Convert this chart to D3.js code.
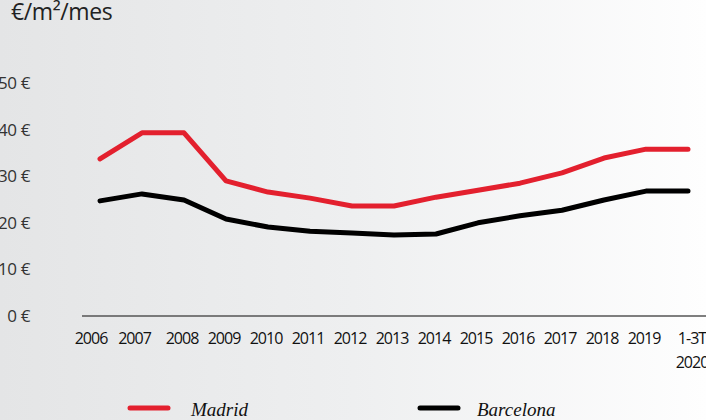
<!DOCTYPE html>
<html>
<head>
<meta charset="utf-8">
<script src="https://cdn.jsdelivr.net/npm/d3@7"></script>
<style>
  html, body { margin: 0; padding: 0; }
  body { width: 706px; height: 420px; overflow: hidden; }
</style>
</head>
<body>
<svg id="chart" width="706" height="420"></svg>
<script>
const years = ["2006","2007","2008","2009","2010","2011","2012","2013","2014","2015","2016","2017","2018","2019","1-3T 2020"];
const madrid = [33.7, 39.3, 39.3, 29.0, 26.6, 25.3, 23.6, 23.6, 25.5, 27.0, 28.5, 30.7, 33.9, 35.8, 35.8];
const barcelona = [24.7, 26.2, 24.9, 20.8, 19.1, 18.2, 17.8, 17.4, 17.6, 20.0, 21.5, 22.7, 24.9, 26.8, 26.8];
const yTicks = [0, 10, 20, 30, 40, 50];

const svg = d3.select("#chart");

// background gradient
const defs = svg.append("defs");
const grad = defs.append("linearGradient")
  .attr("id", "bg")
  .attr("x1", "0%").attr("x2", "100%")
  .attr("y1", "0%").attr("y2", "0%");
grad.append("stop").attr("offset", "0%").attr("stop-color", "#e4e5e6");
grad.append("stop").attr("offset", "50%").attr("stop-color", "#eeeff0");
grad.append("stop").attr("offset", "100%").attr("stop-color", "#fefefe");

svg.append("rect")
  .attr("width", 706).attr("height", 420)
  .attr("fill", "url(#bg)");

const x = d3.scalePoint()
  .domain(years)
  .range([100, 688]);

const y = d3.scaleLinear()
  .domain([0, 50])
  .range([316, 83]);

/* UNIT LABEL */
svg.append("text")
  .attr("x", 11)
  .attr("y", 20)
  .attr("font-family", "Open Sans, sans-serif")
  .attr("font-size", "23px")
  .attr("letter-spacing", "-0.4px")
  .attr("fill", "#222")
  .text("€/m²/mes");

/* Y LABELS */
svg.append("g")
  .selectAll("text")
  .data(yTicks)
  .join("text")
  .attr("x", 30)
  .attr("y", d => y(d))
  .attr("dy", "0.35em")
  .attr("text-anchor", "end")
  .attr("font-family", "Open Sans, sans-serif")
  .attr("font-size", "17px")
  .attr("letter-spacing", "-0.4px")
  .attr("fill", "#333")
  .text(d => d + " €");

/* X AXIS */
const xAxis = svg.append("g")
  .attr("transform", "translate(0,316)")
  .call(d3.axisBottom(x).tickSize(0).tickFormat(""));
xAxis.select(".domain")
  .attr("d", "M82,0H706")
  .attr("stroke", "#555")
  .attr("stroke-width", 1.5);

const xl = svg.append("g")
  .selectAll("text")
  .data(years)
  .join("text")
  .attr("x", (d, i) => x(d) - (i < 2 ? 9 - i * 1.5 : 2) + (i === 14 ? 6 : 0))
  .attr("y", 344)
  .attr("text-anchor", "middle")
  .attr("font-family", "Open Sans, sans-serif")
  .attr("font-size", "16px")
  .attr("letter-spacing", "-1px")
  .attr("fill", "#111");
xl.each(function(d) {
  const parts = d.split(" ");
  const t = d3.select(this);
  parts.forEach((p, k) => {
    t.append("tspan")
      .attr("x", t.attr("x"))
      .attr("dy", k === 0 ? 0 : 24)
      .text(p);
  });
});

/* LINES */
const line = d3.line()
  .x((d, i) => x(years[i]))
  .y(d => y(d));

svg.append("path")
  .datum(barcelona)
  .attr("fill", "none")
  .attr("stroke", "#000")
  .attr("stroke-width", 5)
  .attr("stroke-linecap", "round")
  .attr("stroke-linejoin", "round")
  .attr("d", line);

svg.append("path")
  .datum(madrid)
  .attr("fill", "none")
  .attr("stroke", "#e3202e")
  .attr("stroke-width", 5)
  .attr("stroke-linecap", "round")
  .attr("stroke-linejoin", "round")
  .attr("d", line);

/* LEGEND */
const legend = [
  { name: "Madrid", color: "#e3202e", x: 130, tx: 61 },
  { name: "Barcelona", color: "#000", x: 420, tx: 57 }
];
const lg = svg.append("g")
  .selectAll("g")
  .data(legend)
  .join("g")
  .attr("transform", d => `translate(${d.x},408)`);
lg.append("line")
  .attr("x1", 0).attr("x2", 38)
  .attr("stroke", d => d.color)
  .attr("stroke-width", 5)
  .attr("stroke-linecap", "round");
lg.append("text")
  .attr("x", d => d.tx)
  .attr("y", 8)
  .attr("font-family", "Liberation Serif, serif")
  .attr("font-style", "italic")
  .attr("font-size", "19px")
  .attr("fill", "#111")
  .text(d => d.name);
</script>
</body>
</html>
